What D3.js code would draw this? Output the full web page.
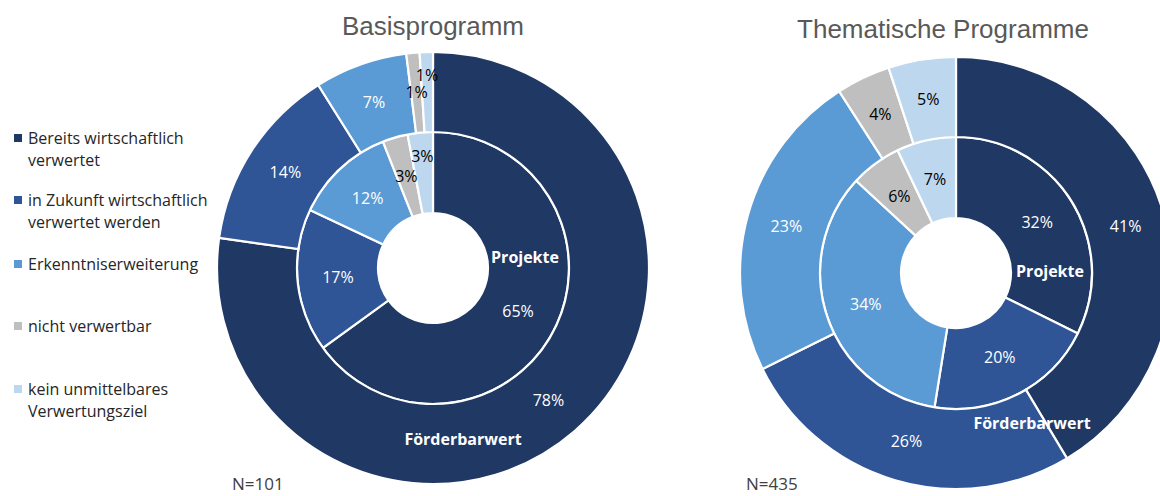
<!DOCTYPE html>
<html><head><meta charset="utf-8">
<script src="https://cdn.jsdelivr.net/npm/d3@7"></script>
<style>
html,body{margin:0;padding:0;background:#fff;}
svg{display:block;}
</style></head>
<body>
<svg id="chart" width="1160" height="496"></svg>
<script>
const categories = ["Bereits wirtschaftlich verwertet","in Zukunft wirtschaftlich verwertet werden","Erkenntniserweiterung","nicht verwertbar","kein unmittelbares Verwertungsziel"];
const legendLines = [["Bereits wirtschaftlich","verwertet"],["in Zukunft wirtschaftlich","verwertet werden"],["Erkenntniserweiterung"],["nicht verwertbar"],["kein unmittelbares","Verwertungsziel"]];
const colors = ["#203864","#2F5597","#5B9BD5","#BFBFBF","#BDD7EE"];
const labelColors = ["#fff","#fff","#fff","#000","#000"];

const basisProjekte = [65,17,12,3,3];
const basisFoerder = [78,14,7,1,1];
const themProjekte = [32,20,34,6,7];
const themFoerder = [41,26,23,4,5];

const titles = ["Basisprogramm","Thematische Programme"];
const nLabels = ["N=101","N=435"];
const ringNames = ["Projekte","Förderbarwert"];

const svg = d3.select("#chart");
const font = "'Open Sans', sans-serif";

// Legend
const legendY = [138, 200, 264, 326, 389];
legendLines.forEach((lines, i) => {
  const g = svg.append("g").attr("transform", `translate(14,${legendY[i]})`);
  g.append("rect").attr("x",0).attr("y",-4).attr("width",8).attr("height",8).attr("fill",colors[i]);
  lines.forEach((t, j) => {
    g.append("text").attr("x",14).attr("y", j*22).attr("dy","0.35em")
      .attr("font-family",font).attr("font-size",16).attr("fill","#262626").text(t);
  });
});

const rHole = 55, rMid = 136, rOuter = 216;
const charts = [
  {cx:433, cy:268, inner:basisProjekte, outer:basisFoerder, title:titles[0], tx:433, titleY:26, n:nLabels[0], nx:232, ny:490,
   projOff:[92,-11], foerOff:[30,171]},
  {cx:956, cy:273, inner:themProjekte, outer:themFoerder, title:titles[1], tx:943, titleY:29, n:nLabels[1], nx:746, ny:490,
   projOff:[94,-2], foerOff:[76,150]}
];

const pie = d3.pie().sort(null).value(d => d);

charts.forEach(c => {
  const g = svg.append("g").attr("transform", `translate(${c.cx},${c.cy})`);
  const rings = [{data:c.inner, r0:rHole, r1:rMid}, {data:c.outer, r0:rMid, r1:rOuter}];
  rings.forEach(ring => {
    const arcs = pie(ring.data);
    const arc = d3.arc().innerRadius(ring.r0).outerRadius(ring.r1);
    g.append("g").selectAll("path").data(arcs).join("path")
      .attr("d", arc).attr("fill", (d,i) => colors[i])
      .attr("stroke","#fff").attr("stroke-width",2.2).attr("stroke-linejoin","miter");
    const total = d3.sum(ring.data);
    g.append("g").selectAll("text").data(arcs).join("text")
      .attr("transform", (d,i) => {
        const share = d.data / total;
        const push = (share < 0.035 && i === arcs.length-1) ? 17 : 0;
        const r = (ring.r0 + ring.r1)/2 + push;
        const a = (d.startAngle + d.endAngle)/2;
        return `translate(${Math.sin(a)*r},${-Math.cos(a)*r})`;
      })
      .attr("text-anchor","middle").attr("dy","0.35em")
      .attr("font-family",font).attr("font-size",16)
      .attr("fill",(d,i) => labelColors[i])
      .text(d => d.data + "%");
  });
  g.append("text").attr("x",c.projOff[0]).attr("y",c.projOff[1]).attr("dy","0.35em")
    .attr("text-anchor","middle").attr("font-family",font).attr("font-weight","bold")
    .attr("font-size",16).attr("fill","#fff").text(ringNames[0]);
  g.append("text").attr("x",c.foerOff[0]).attr("y",c.foerOff[1]).attr("dy","0.35em")
    .attr("text-anchor","middle").attr("font-family",font).attr("font-weight","bold")
    .attr("font-size",16).attr("fill","#fff").text(ringNames[1]);
  svg.append("text").attr("x",c.tx).attr("y",c.titleY).attr("dy","0.35em")
    .attr("text-anchor","middle").attr("font-family","'Liberation Sans', Arial, sans-serif")
    .attr("font-size",26).attr("fill","#595959").text(c.title);
  svg.append("text").attr("x",c.nx).attr("y",c.ny)
    .attr("font-family",font).attr("font-size",17).attr("fill","#404040").text(c.n);
});
</script>
</body></html>
